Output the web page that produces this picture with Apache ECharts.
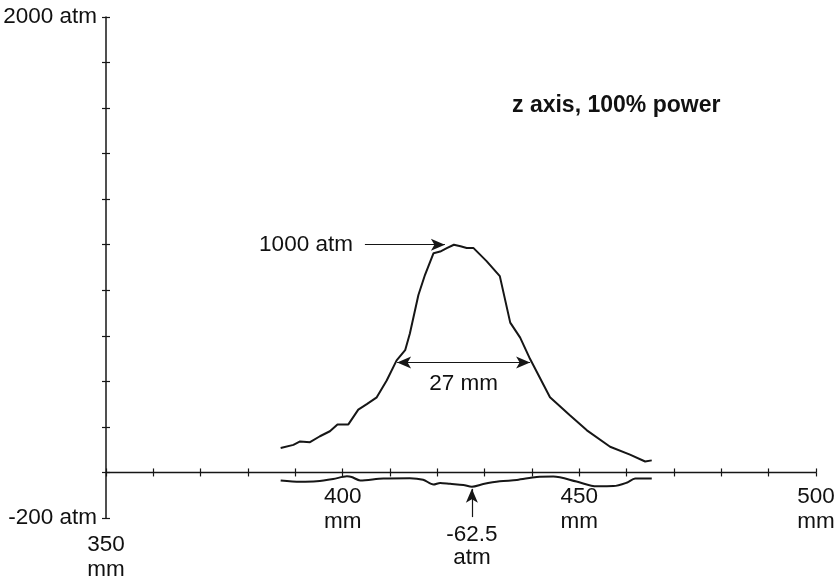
<!DOCTYPE html>
<html>
<head>
<meta charset="utf-8">
<script src="https://cdn.jsdelivr.net/npm/echarts@6/dist/echarts.min.js"></script>
<style>
  html, body { margin: 0; padding: 0; background: #fff; }
  #chart { width: 836px; height: 579px; }
</style>
</head>
<body>
<div id="chart"></div>
<script>
// 压力分布（mm, atm）
const profileX = [386.9, 389.6, 391.0, 393.1, 395.2, 397.3, 398.9, 401.2, 403.3, 405.1,
  407.2, 409.3, 411.4, 413.2, 414.2, 416.0, 417.4, 419.2, 420.6, 422.0,
  423.5, 424.9, 426.2, 427.6, 430.4, 433.2, 435.4, 437.5, 439.6, 443.8,
  448.0, 451.6, 456.5, 460.7, 463.9, 465.3];
const profileY = [107, 121, 136, 133, 159, 181, 211, 211, 276, 300,
  330, 404, 492, 537, 610, 779, 868, 963, 970, 985,
  1000, 993, 986, 986, 928, 862, 658, 592, 498, 330,
  251, 185, 113, 78, 48, 53];

// 负压部分
const dipX = [386.9, 391.0, 394.5, 398.0, 400.9, 401.9, 403.7, 408.6, 414.2, 417.0,
  419.2, 420.6, 422.7, 425.5, 427.3, 429.7, 433.2, 436.8, 441.0, 444.5,
  449.4, 453.7, 457.2, 460.0, 461.8, 465.3];
const dipY = [-35, -41, -39, -29, -17, -20, -35, -26, -25, -32,
  -53, -46, -50, -55, -62.5, -51, -39, -33, -20, -18,
  -40, -61, -60, -45, -27, -26];

const xLabelValues = [350, 400, 450, 500];
const yLabelValues = [-200, 2000];

const FONT = '"Liberation Sans", Arial, sans-serif';
const INK = '#161616';
const LABEL_SIZE = 22.5;

const chart = echarts.init(document.getElementById('chart'));

const baseX = {
  type: 'value', min: 350, max: 500, interval: 10, position: 'bottom',
  splitLine: { show: false },
  axisLabel: { show: false },
};
const baseY = {
  type: 'value', min: -200, max: 2000, interval: 200, position: 'left',
  splitLine: { show: false },
};

chart.setOption({
  backgroundColor: '#fff',
  animation: false,
  title: {
    text: 'z axis, 100% power',
    left: 512, top: 94, padding: 0,
    textStyle: { fontFamily: FONT, fontSize: 23, fontWeight: 'bold', color: '#111' },
  },
  grid: { left: 106, right: 20, top: 17, bottom: 61 },
  xAxis: [
    {
      ...baseX,
      axisLine: { onZero: true, lineStyle: { color: INK, width: 1.3 } },
      axisTick: { show: true, length: 4, lineStyle: { color: INK, width: 1.2 } },
    },
    {
      ...baseX,
      axisLine: { show: false, onZero: true },
      axisTick: { show: true, inside: true, length: 4, lineStyle: { color: INK, width: 1.2 } },
    },
  ],
  yAxis: [
    {
      ...baseY,
      axisLine: { show: true, lineStyle: { color: INK, width: 1.5 } },
      axisTick: { show: true, length: 4, lineStyle: { color: INK, width: 1.2 } },
      axisLabel: {
        margin: 9, fontFamily: FONT, fontSize: LABEL_SIZE, color: '#111',
        formatter: (v) => (yLabelValues.includes(v) ? v + ' atm' : ''),
      },
    },
    {
      ...baseY,
      axisLine: { show: false },
      axisTick: { show: true, inside: true, length: 4, lineStyle: { color: INK, width: 1.2 } },
      axisLabel: { show: false },
    },
  ],
  series: [
    {
      type: 'line',
      data: profileX.map((x, i) => [x, profileY[i]]),
      showSymbol: false,
      lineStyle: { color: INK, width: 2 },
      markLine: {
        silent: true,
        symbol: ['none', 'arrow'],
        symbolSize: [9, 14],
        lineStyle: { color: INK, width: 1.2, type: 'solid' },
        label: { fontFamily: FONT, fontSize: LABEL_SIZE, color: '#111' },
        data: [
          [
            { coord: [404.7, 1000], symbol: 'none',
              label: { position: 'start', distance: 12, formatter: '1000 atm' } },
            { coord: [421.6, 1000], symbol: 'arrow' },
          ],
          [
            { coord: [411.5, 483], symbol: 'arrow',
              label: { position: 'insideMiddleBottom', distance: 10, formatter: '27 mm' } },
            { coord: [439.6, 483], symbol: 'arrow' },
          ],
          [
            { coord: [427.3, -196], symbol: 'none',
              label: { position: 'start', distance: 6, lineHeight: 23, formatter: '-62.5\natm' } },
            { coord: [427.3, -72], symbol: 'arrow' },
          ],
        ],
      },
    },
    {
      type: 'line',
      data: dipX.map((x, i) => [x, dipY[i]]),
      showSymbol: false,
      smooth: 0.3,
      lineStyle: { color: INK, width: 2 },
    },
  ],
});

// x 轴标签：350 放在 y 轴底端下面，其余贴着零线
const xLabels = xLabelValues.map((v) => {
  const atZero = chart.convertToPixel({ gridIndex: 0 }, [v, 0]);
  const atBottom = chart.convertToPixel({ gridIndex: 0 }, [v, -200]);
  const y = v === 350 ? atBottom[1] + 14 : atZero[1] + 12;
  return {
    type: 'text', x: atZero[0], y,
    style: {
      text: v + '\nmm', font: LABEL_SIZE + 'px ' + FONT, lineHeight: 25,
      fill: '#111', align: 'center', verticalAlign: 'top',
    },
  };
});
chart.setOption({ graphic: xLabels });
</script>
</body>
</html>
